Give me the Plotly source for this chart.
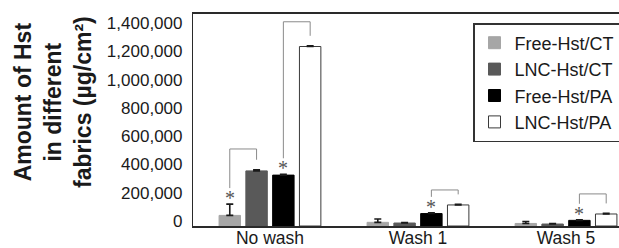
import plotly.graph_objects as go

# ---------------- data ----------------
categories = ["No wash", "Wash 1", "Wash 5"]
series_names = ["Free-Hst/CT", "LNC-Hst/CT", "Free-Hst/PA", "LNC-Hst/PA"]

free_ct = [75000, 26000, 18000]
free_ct_err = [80000, 24000, 14000]
lnc_ct = [390000, 21000, 14000]
lnc_ct_err = [8000, 4000, 3000]
free_pa = [360000, 88000, 40000]
free_pa_err = [6000, 5000, 4000]
lnc_pa = [1270000, 149000, 85000]
lnc_pa_err = [5000, 4000, 4000]

y_tick_vals = [0, 200000, 400000, 600000, 800000, 1000000, 1200000, 1400000]
y_tick_text = ["0", "200,000", "400,000", "600,000", "800,000",
               "1,000,000", "1,200,000", "1,400,000"]

# significance brackets: (category index, from series, to series, bracket top value)
brackets = [(0, 0, 1, 545000), (0, 2, 3, 1445000), (1, 2, 3, 255000), (2, 2, 3, 227000)]
# stars: (category index, series index)
stars = [(0, 0), (0, 2), (1, 2), (2, 2)]

# ---------------- styling ----------------
W, H = 619, 248
ML, MR, MT, MB = 193, 0, 14, 22
Y_MAX = 1500000
X_RANGE = [-0.52, 2.358]
BARGAP = 0.276
BARGROUPGAP = 0.2
FONT = "Liberation Sans, Arial, sans-serif"

fills = ["#a6a6a6", "#595959", "#000000", "#ffffff"]
outlines = ["#a6a6a6", "#595959", "#000000", "#3a3a3a"]

values = [free_ct, lnc_ct, free_pa, lnc_pa]
errors = [free_ct_err, lnc_ct_err, free_pa_err, lnc_pa_err]

x_idx = list(range(len(categories)))

fig = go.Figure()
for s, name in enumerate(series_names):
    fig.add_trace(go.Bar(
        x=x_idx, y=values[s], name=name,
        marker=dict(color=fills[s], line=dict(color=outlines[s], width=1)),
        error_y=dict(type="data", symmetric=False, array=errors[s],
                     arrayminus=[0] * len(categories),
                     color="#1a1a1a", thickness=1.6, width=3.5),
    ))

plot_h = H - MT - MB
px_per_unit = plot_h / Y_MAX
n_series = len(series_names)
slot = (1 - BARGAP) / n_series


def bar_x(cat, s):
    return cat + (s - (n_series - 1) / 2) * slot


def bar_top(cat, s):
    return values[s][cat] + errors[s][cat]


shapes = []
annotations = []

STAR_GAP_PX = 10
for cat, s in stars:
    y_star = bar_top(cat, s) + STAR_GAP_PX / px_per_unit
    annotations.append(dict(
        x=bar_x(cat, s), y=y_star, xref="x", yref="y",
        text="*", showarrow=False, yshift=-4,
        font=dict(family="Liberation Serif, Times New Roman, serif", size=20, color="#555555"),
        xanchor="center", yanchor="middle",
    ))

line_style = dict(color="#8a8a8a", width=1)
for cat, s0, s1, top in brackets:
    x0 = bar_x(cat, s0)
    x1 = bar_x(cat, s1)
    y_left = bar_top(cat, s0) + (STAR_GAP_PX + 6) / px_per_unit
    y_right = bar_top(cat, s1) + 10 / px_per_unit
    path = f"M {x0},{y_left} L {x0},{top} L {x1},{top} L {x1},{y_right}"
    shapes.append(dict(type="path", path=path, xref="x", yref="y", line=line_style))

# y-axis title as a rotated annotation
annotations.append(dict(
    xref="paper", yref="paper",
    x=(53 - ML) / (W - ML - MR), y=(H - MB - 102) / plot_h,
    text="<b>Amount of Hst<br>in different<br>fabrics (µg/cm²)</b>",
    textangle=-90, showarrow=False, xanchor="center", yanchor="middle",
    font=dict(family=FONT, size=23, color="#1a1a1a"),
))

fig.update_layout(
    width=W, height=H,
    margin=dict(l=ML, r=MR, t=MT, b=MB, pad=0, autoexpand=False),
    paper_bgcolor="white", plot_bgcolor="white",
    barmode="group", bargap=BARGAP, bargroupgap=BARGROUPGAP,
    font=dict(family=FONT, size=17, color="#1a1a1a"),
    showlegend=True,
    legend=dict(
        x=(473 - ML) / (W - ML - MR), y=(H - MB - 23) / plot_h,
        xanchor="left", yanchor="top",
        bgcolor="white", bordercolor="#333333", borderwidth=1.5,
        font=dict(family=FONT, size=18, color="#1a1a1a"),
        traceorder="normal",
    ),
    shapes=shapes, annotations=annotations,
    xaxis=dict(
        range=X_RANGE, tickmode="array", tickvals=x_idx, ticktext=categories,
        showline=True, linecolor="#2a2a2a", linewidth=1.5, mirror=True,
        showgrid=False, zeroline=False, ticks="", ticklen=0,
        ticklabelstandoff=-5,
        tickfont=dict(family=FONT, size=17.5, color="#1a1a1a"),
        fixedrange=True,
    ),
    yaxis=dict(
        range=[0, Y_MAX], tickmode="array", tickvals=y_tick_vals, ticktext=y_tick_text,
        showline=True, linecolor="#2a2a2a", linewidth=1.2, mirror=False,
        showgrid=False, zeroline=False, ticks="", ticklen=0,
        ticklabelstandoff=6, ticklabelshift=-5,
        tickfont=dict(family=FONT, size=17, color="#1a1a1a"),
        fixedrange=True,
    ),
)

fig.write_html("out.html", config={"displayModeBar": False},
               post_script="document.body.style.margin='0';document.body.style.overflow='hidden';")
